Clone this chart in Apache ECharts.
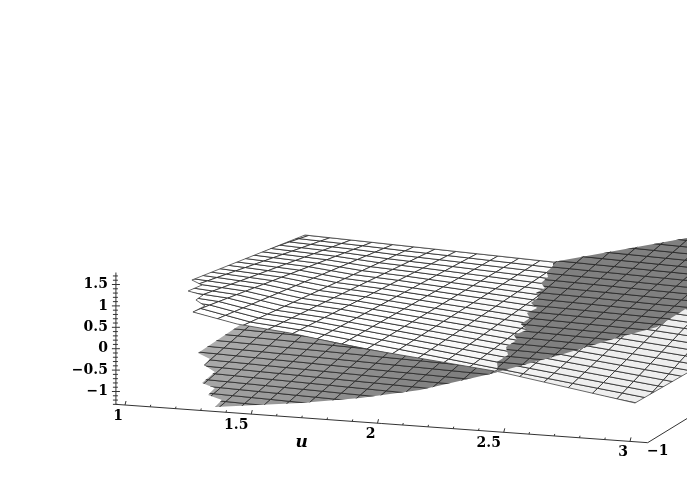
<!DOCTYPE html>
<html><head><meta charset="utf-8">
<style>html,body{margin:0;padding:0;background:#fff}#c{width:687px;height:491px}</style>
<script src="https://cdn.jsdelivr.net/npm/echarts@6/dist/echarts.min.js"></script>
</head><body><div id="c"></div>
<script>
// Tick labels
const uTicks = [1, 1.5, 2, 2.5, 3];
const zTicks = [-1, -0.5, 0, 0.5, 1, 1.5];
const vTicks = [-1];
// Light surface: v value of each mesh row, then each mesh column read at its front (v=-1) and back (v=1) end
const s1VRows = [-1,-0.9,-0.8,-0.7,-0.6,-0.5,-0.4,-0.3,-0.2,-0.1,0,0.1,0.2,0.3,0.4,0.5,0.6,0.7,0.8,0.9,1];
const s1UFront = [0.869,0.968,1.067,1.166,1.265,1.364,1.463,1.562,1.661,1.760,1.859,1.958,2.057,2.156,2.255,2.354,2.453,2.552,2.651,2.750,2.849,2.948,3.047,3.146,3.245,3.344,3.443];
const s1ZFront = [1.191,1.140,1.089,1.037,0.986,0.864,0.743,0.692,0.640,0.565,0.491,0.416,0.341,0.267,0.192,0.117,0.042,-0.032,-0.107,-0.182,-0.257,-0.331,-0.406,-0.481,-0.555,-0.630,-0.705];
const s1UBack = [1.051,1.134,1.218,1.301,1.384,1.467,1.550,1.634,1.717,1.800,1.883,1.966,2.050,2.133,2.216,2.299,2.382,2.466,2.549,2.632,2.715,2.798,2.882,2.965,3.048,3.131,3.214];
const s1ZBack = [0.587,0.569,0.551,0.533,0.515,0.497,0.479,0.461,0.443,0.425,0.406,0.388,0.370,0.352,0.334,0.316,0.298,0.280,0.262,0.244,0.225,0.207,0.189,0.171,0.153,0.135,0.117];
// Dark surface
const s2VRows = [-1,-0.939,-0.879,-0.818,-0.758,-0.697,-0.636,-0.576,-0.515,-0.455,-0.394,-0.333,-0.273,-0.212,-0.152,-0.091,-0.030,0.030,0.091,0.152,0.212,0.273,0.333,0.394,0.455,0.515,0.576,0.636,0.697,0.758,0.818,0.879,0.939,1];
const s2UFront = [1.071,1.146,1.221,1.297,1.372,1.447,1.522,1.597,1.673,1.748,1.823,1.898,1.973,2.049,2.124,2.199,2.274,2.349,2.425,2.500,2.575,2.650,2.725];
const s2ZFront = [-1.153,-1.165,-1.178,-1.190,-1.203,-1.215,-1.227,-1.240,-1.252,-1.265,-1.277,-1.289,-1.302,-1.314,-1.327,-1.339,-1.351,-1.364,-1.376,-1.389,-1.401,-1.413,-1.426];
const s2UBack = [1.380,1.455,1.530,1.606,1.681,1.756,1.831,1.906,1.982,2.057,2.132,2.207,2.282,2.358,2.433,2.508,2.583,2.658,2.734,2.809,2.884,2.959,3.034];
const s2ZBack = [1.455,1.443,1.430,1.418,1.405,1.393,1.381,1.368,1.356,1.343,1.331,1.319,1.306,1.294,1.281,1.269,1.257,1.244,1.232,1.219,1.207,1.195,1.182];
// Visible outline of each surface, as [u, z] along the v=-1 sight-line
const s1Outline = [[1.265,1.733],[1.305,1.633],[1.250,1.470],[1.309,1.401],[1.281,1.273],[1.317,1.148],[1.269,0.987],[1.444,0.781],[1.653,0.660],[1.931,0.428],[2.485,0.103],[3.020,-0.394],[3.226,0.394],[3.356,0.893],[3.356,2.646],[2.695,2.762],[1.713,2.975]];
const s2Outline = [[1.289,0.038],[1.337,-0.082],[1.313,-0.232],[1.356,-0.377],[1.305,-0.656],[1.356,-0.751],[1.329,-0.927],[1.384,-1.020],[1.356,-1.195],[1.693,-0.959],[1.931,-0.741],[2.168,-0.453],[2.446,0.039],[2.723,0.601],[2.960,1.122],[3.107,1.418],[3.226,1.913],[3.356,2.482],[3.356,3.744],[1.455,0.763]];
// Jagged line where the two surfaces cross, [u, z] along the same sight-line
const crossing = [[2.695,2.762],[2.695,2.669],[2.671,2.518],[2.675,2.403],[2.648,2.251],[2.663,2.141],[2.628,2.009],[2.636,1.896],[2.608,1.767],[2.632,1.660],[2.592,1.527],[2.604,1.415],[2.568,1.260],[2.592,1.129],[2.541,0.991],[2.552,0.879],[2.509,0.697],[2.517,0.513],[2.473,0.331],[2.477,0.146],[2.446,0.039]];

// Axis ranges
const uAxisRange = [0.964, 3.07];
const zAxisRange = [-1.3, 1.78];

// View projection from (u,v,z) to the picture plane
function proj(u, v, z) {
  return [125 + 252.5*(u-1) + 75*(v+1), 405 + 18.2*(u-1) - 46*(v+1) - 42.8*(z+1.3)];
}
const chart = echarts.init(document.getElementById('c'), null, {renderer:'canvas'});

function outlinePts(api, o){ return o.map(p => api.coord(proj(p[0], -1, p[1]))); }
function vertex(api, s, k, j){
  const R=s.rows, t = (R[j]-R[0])/(R[R.length-1]-R[0]);
  return api.coord(proj(s.uf[k]+(s.ub[k]-s.uf[k])*t, R[j], s.zf[k]+(s.zb[k]-s.zf[k])*t));
}
function cellData(s){ const d=[]; for(let k=0;k<s.uf.length-1;k++) for(let j=0;j<s.rows.length-1;j++) d.push([k,j]); return d; }
function grey(v){ v=Math.round(v); return 'rgb('+v+','+v+','+v+')'; }
const S1={rows:s1VRows,uf:s1UFront,zf:s1ZFront,ub:s1UBack,zb:s1ZBack,
  shade:(k)=>grey(k<10?255:Math.max(238,255-(k-10)*2))};
const S2={rows:s2VRows,uf:s2UFront,zf:s2ZFront,ub:s2UBack,zb:s2ZBack,
  shade:(k)=>grey(Math.max(128,172-k*3.4))};
function surfaceSeries(s, outline){
  return {type:'custom', coordinateSystem:'cartesian2d', silent:true, clip:true, animation:false,
    data:cellData(s),
    renderItem(params, api){
      const k=api.value(0), j=api.value(1);
      const pts=[vertex(api,s,k,j),vertex(api,s,k+1,j),vertex(api,s,k+1,j+1),vertex(api,s,k,j+1)];
      return {type:'polygon', shape:{points:pts},
        style:{fill:s.shade(k), stroke:'#262626', lineWidth:0.8},
        clipPath:{type:'polygon', shape:{points:outlinePts(api,outline)}}};
    }};
}
function outlineSeries(outline){
  return {type:'custom', coordinateSystem:'cartesian2d', silent:true, animation:false, data:[[0]],
    renderItem(params, api){
      return {type:'polygon', shape:{points:outlinePts(api,outline)}, style:{fill:'none',stroke:'#444',lineWidth:0.8}};
    }};
}
const s2FrontOutline = crossing.concat(s2Outline.slice(13,19));
function range(a,b,st){ const r=[]; for(let i=Math.ceil(a/st-1e-9);i*st<=b+1e-9;i++) r.push(+(i*st).toFixed(3)); return r; }
const axisLines = {type:'custom', coordinateSystem:'cartesian2d', silent:true, animation:false, data:[[0]],
  renderItem(params, api){
    const L=[], ln=(a,b,w)=>L.push({type:'line',shape:{x1:a[0],y1:a[1],x2:b[0],y2:b[1]},style:{stroke:'#333',lineWidth:w||1}});
    const zb=zAxisRange[0];
    ln(api.coord(proj(uAxisRange[0],-1,zb)),api.coord(proj(uAxisRange[1],-1,zb)));
    ln(api.coord(proj(uAxisRange[0],-1,zb)),api.coord(proj(uAxisRange[0],-1,zAxisRange[1])));
    ln(api.coord(proj(uAxisRange[1],-1,zb)),api.coord(proj(uAxisRange[1],0.2,zb)));
    range(zAxisRange[0],zAxisRange[1],0.1).forEach(z=>{
      const p=api.coord(proj(uAxisRange[0],-1,z)), maj=zTicks.indexOf(z)>=0;
      ln([p[0]-(maj?4:3),p[1]],[p[0]+(maj?4:2),p[1]]);
    });
    range(1,3,0.1).forEach(u=>{
      const p=api.coord(proj(u,-1,zb)), maj=uTicks.indexOf(u)>=0;
      ln([p[0],p[1]],[p[0]+(maj?1:0.5),p[1]-(maj?4:2)]);
    });
    return {type:'group',children:L};
  }};
const font='bold 14px "DejaVu Serif"';
const axisLabels = {type:'custom', coordinateSystem:'cartesian2d', silent:true, animation:false, data:[[0]],
  renderItem(params, api){
    const T=[], tx=(s,p,al,f)=>T.push({type:'text',style:{text:s,x:p[0],y:p[1],align:al,verticalAlign:'middle',font:f||font,fill:'#000'}});
    zTicks.forEach(z=>{ const p=api.coord(proj(uAxisRange[0],-1,z)); tx(String(z).replace('-','\u2212'),[p[0]-8,p[1]],'right'); });
    uTicks.forEach(u=>{ const p=api.coord(proj(u,-1,zAxisRange[0])); tx(String(u),[p[0]-(u===1?7:u===3?7:u===2?7:15),p[1]+11],'center'); });
    vTicks.forEach(v=>{ const p=api.coord(proj(uAxisRange[1],v,zAxisRange[0])); tx(String(v).replace('-','\u2212'),[p[0]+10,p[1]+9],'center'); });
    const m=api.coord(proj(1.7,-1,zAxisRange[0]));
    tx('u',[m[0],m[1]+25],'center','italic bold 17px "DejaVu Serif"');
    return {type:'group',children:T};
  }};
chart.setOption({
  animation:false, backgroundColor:'#fff',
  grid:{left:0,right:0,top:0,bottom:0},
  xAxis:{type:'value',min:0,max:687,show:false},
  yAxis:{type:'value',min:0,max:491,inverse:true,show:false},
  series:[surfaceSeries(S2,s2Outline),surfaceSeries(S1,s1Outline),outlineSeries(s1Outline),surfaceSeries(S2,s2FrontOutline),axisLines,axisLabels]
});
</script></body></html>
